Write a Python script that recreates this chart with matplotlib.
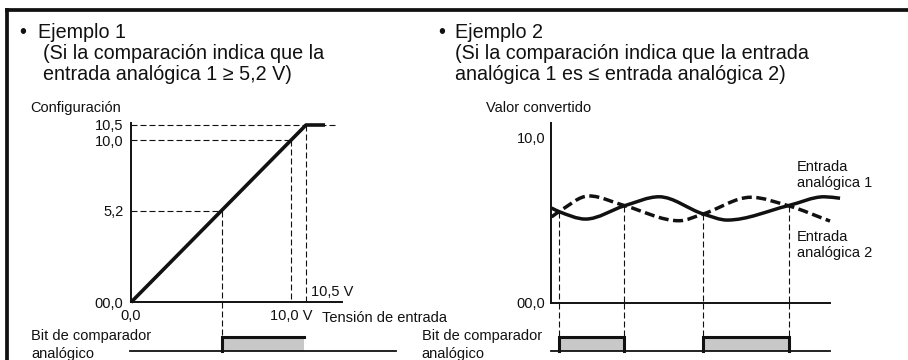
import matplotlib
matplotlib.use('Agg')
import matplotlib.pyplot as plt
from matplotlib.path import Path
from matplotlib.patches import PathPatch
import numpy as np

plt.rcParams['font.family'] = ['Liberation Sans', 'DejaVu Sans']

W, H = 908, 360
fig = plt.figure(figsize=(W / 100, H / 100), dpi=100)

# ------------------------------------------------------------------ data
# Example 1 (schematic, positions as drawn in the reference)
ex1_line_x = [0.0, 10.5, 11.64]
ex1_line_y = [0.0, 10.5, 10.5]
ex1_ytick_pos = [0.0, 5.43, 9.6, 10.5]
ex1_ytick_lbl = ['00,0', '5,2', '10,0', '10,5']
ex1_xtick_pos = [0.0, 9.6]
ex1_xtick_lbl = ['0,0', '10,0 V']
ex1_guides = [5.43, 9.6, 10.5]          # dashed guide points on the line
ex1_bit_on = [5.43, 10.38]              # comparator bit ON interval

# Example 2
in1_t = [0.03, 0.30, 1.25, 2.65, 3.88, 5.46, 6.32, 8.50, 9.79, 10.36]
in1_v = [5.72, 5.50, 5.05, 5.86, 6.40, 5.36, 4.99, 5.86, 6.40, 6.31]
in2_t = [0.03, 0.30, 1.37, 2.65, 4.59, 5.46, 7.16, 8.50, 10.0]
in2_v = [5.18, 5.50, 6.45, 5.86, 4.95, 5.36, 6.37, 5.86, 4.93]
ex2_cross_t = [0.28, 2.64, 5.45, 8.53]
ex2_cross_v = [5.50, 5.86, 5.36, 5.86]
ex2_ytick_pos = [0.0, 10.0]
ex2_ytick_lbl = ['00,0', '10,0']
ex2_bit_on = [(0.28, 2.64), (5.45, 8.53)]

# ------------------------------------------------------------------ helpers
def rect(x0, x1, y0, y1):
    """pixel box (left, right, top, bottom) -> figure fraction"""
    return [x0 / W, 1 - y1 / H, (x1 - x0) / W, (y1 - y0) / H]

BLACK = '#111111'
GRAY = '#c8c8c8'
THIN_DASH = (0, (5.4, 2.7))
SMALL = 10.5
TITLE = 14.2


def smooth_path(xs, ys):
    xs = np.asarray(xs, float)
    ys = np.asarray(ys, float)
    n = len(xs)
    h = np.diff(xs)
    s = np.diff(ys) / h
    d = np.zeros(n)
    d[0] = s[0]
    d[-1] = s[-1]
    for k in range(1, n - 1):
        if s[k - 1] * s[k] <= 0:
            d[k] = 0.0
        else:
            w1 = 2 * h[k] + h[k - 1]
            w2 = h[k] + 2 * h[k - 1]
            d[k] = (w1 + w2) / (w1 / s[k - 1] + w2 / s[k])
    verts = [(xs[0], ys[0])]
    codes = [Path.MOVETO]
    for k in range(n - 1):
        hk = h[k] / 3
        verts += [(xs[k] + hk, ys[k] + d[k] * hk),
                  (xs[k + 1] - hk, ys[k + 1] - d[k + 1] * hk),
                  (xs[k + 1], ys[k + 1])]
        codes += [Path.CURVE4] * 3
    return Path(verts, codes)


# ------------------------------------------------------------------ border
axb = fig.add_axes(rect(7, 930, 9.75, 380))
axb.set_xticks([]); axb.set_yticks([])
for s in ['right', 'bottom']:
    axb.spines[s].set_visible(False)
for s in ['top', 'left']:
    axb.spines[s].set_linewidth(2.7)
    axb.spines[s].set_color(BLACK)
axb.patch.set_alpha(0)

# ------------------------------------------------------------------ Example 1 chart
PX1 = 175 / 10.5          # px per unit (x)
ax1 = fig.add_axes(rect(131, 342, 123, 302.3))
ax1.set_xlim(0, (342 - 131) / PX1)
ax1.set_ylim(0, (302.3 - 123) / (177.3 / 10.5))
for s in ['top', 'right']:
    ax1.spines[s].set_visible(False)
for s in ['left', 'bottom']:
    ax1.spines[s].set_linewidth(1.4)
    ax1.spines[s].set_color(BLACK)
ax1.patch.set_alpha(0)
ax1.set_yticks(ex1_ytick_pos, ex1_ytick_lbl)
ax1.set_xticks(ex1_xtick_pos, ex1_xtick_lbl)
ax1.tick_params(axis='y', length=0, pad=5.4, labelsize=SMALL, colors=BLACK)
ax1.tick_params(axis='x', length=0, pad=5.0, labelsize=SMALL, colors=BLACK)

ax1.plot(ex1_line_x, ex1_line_y, color=BLACK, lw=2.6, solid_capstyle='butt',
         clip_on=False, zorder=5)
# dashed guides
xmax1 = (338 - 131) / PX1
ax1.plot([0, xmax1], [ex1_guides[2]] * 2, color=BLACK, lw=0.8, ls=THIN_DASH, clip_on=False)
for g in ex1_guides[:2]:
    ax1.plot([0, g], [g, g], color=BLACK, lw=0.8, ls=THIN_DASH, clip_on=False)
for g in ex1_guides:
    ax1.plot([g, g], [g, 0], color=BLACK, lw=0.8, ls=THIN_DASH, clip_on=False)

# bit axis 1
axb1 = fig.add_axes(rect(131, 396, 302.3, 360))
axb1.set_xlim(0, (396 - 131) / PX1)
axb1.set_ylim(-(360 - 351) / 14, (351 - 302.3) / 14)
axb1.axis('off')
axb1.plot([-0.06, (396 - 131) / PX1], [0, 0], color=BLACK, lw=1.3, clip_on=False)
axb1.fill_between(ex1_bit_on, 0, 1, color=GRAY, lw=0)
axb1.plot([ex1_bit_on[0], ex1_bit_on[0], ex1_bit_on[1]], [0, 1, 1], color=BLACK, lw=2.2,
          solid_joinstyle='miter', clip_on=False)
axb1.plot([ex1_guides[0]] * 2, [(351 - 302.3) / 14, 1], color=BLACK, lw=0.8, ls=THIN_DASH,
          clip_on=False)

# ------------------------------------------------------------------ Example 2 chart
PY2 = (302.5 - 137.3) / 10.0
ax2 = fig.add_axes(rect(550.7, 830, 122.7, 302.5))
ax2.set_xlim(0, 10)
ax2.set_ylim(0, (302.5 - 122.7) / PY2)
for s in ['top', 'right']:
    ax2.spines[s].set_visible(False)
for s in ['left', 'bottom']:
    ax2.spines[s].set_linewidth(1.4)
    ax2.spines[s].set_color(BLACK)
ax2.patch.set_alpha(0)
ax2.set_xticks([])
ax2.set_yticks(ex2_ytick_pos, ex2_ytick_lbl)
ax2.tick_params(axis='y', length=0, pad=4.0, labelsize=SMALL, colors=BLACK)

ax2.add_patch(PathPatch(smooth_path(in1_t, in1_v), fill=False, ec=BLACK, lw=2.5,
                        clip_on=False, zorder=5, capstyle='butt'))
ax2.add_patch(PathPatch(smooth_path(in2_t, in2_v), fill=False, ec=BLACK, lw=2.5,
                        ls=(0, (2.9, 1.3)), clip_on=False, zorder=5, capstyle='butt'))
for t, v in zip(ex2_cross_t, ex2_cross_v):
    ax2.plot([t, t], [v, 0], color=BLACK, lw=0.8, ls=THIN_DASH, clip_on=False)

# bit axis 2
axb2 = fig.add_axes(rect(550.7, 830, 302.5, 360))
axb2.set_xlim(0, 10)
axb2.set_ylim(-(360 - 351) / 14, (351 - 302.5) / 14)
axb2.axis('off')
axb2.plot([0, 10], [0, 0], color=BLACK, lw=1.3, clip_on=False)
for a, b in ex2_bit_on:
    axb2.fill_between([a, b], 0, 1, color=GRAY, lw=0)
    axb2.plot([a, a, b, b], [0, 1, 1, 0], color=BLACK, lw=2.2, solid_joinstyle='miter',
              clip_on=False)
for t in ex2_cross_t:
    axb2.plot([t, t], [(351 - 302.5) / 14, 1], color=BLACK, lw=0.8, ls=THIN_DASH,
              clip_on=False)

# ------------------------------------------------------------------ texts (pixel layout)
axt = fig.add_axes([0, 0, 1, 1])
axt.set_xlim(0, W)
axt.set_ylim(H, 0)
axt.axis('off')
axt.patch.set_alpha(0)


def txt(x, y, s, size=SMALL, ha='left', va='baseline'):
    axt.text(x, y, s, fontsize=size, ha=ha, va=va, color=BLACK)


# titles
txt(23, 37.5, '\u2022', TITLE, ha='center')
txt(38, 37.5, 'Ejemplo 1', TITLE)
txt(43, 59, '(Si la comparación indica que la', TITLE)
txt(43, 80, 'entrada analógica 1 \u2265 5,2 V)', TITLE)

txt(442, 37.5, '\u2022', TITLE, ha='center')
txt(455, 37.5, 'Ejemplo 2', TITLE)
txt(455, 59, '(Si la comparación indica que la entrada', TITLE)
txt(455, 80, 'analógica 1 es \u2264 entrada analógica 2)', TITLE)

txt(30, 112, 'Configuración')
txt(486, 112, 'Valor convertido')

txt(311, 296.5, '10,5 V')
txt(321.7, 322, 'Tensión de entrada')

txt(796.7, 171, 'Entrada')
txt(796.7, 187, 'analógica 1')
txt(796.7, 241, 'Entrada')
txt(796.7, 257, 'analógica 2')

txt(31, 340, 'Bit de comparador')
txt(31, 358, 'analógico')
txt(421.7, 340, 'Bit de comparador')
txt(421.7, 358, 'analógico')

fig.savefig('out.png', dpi=100)
